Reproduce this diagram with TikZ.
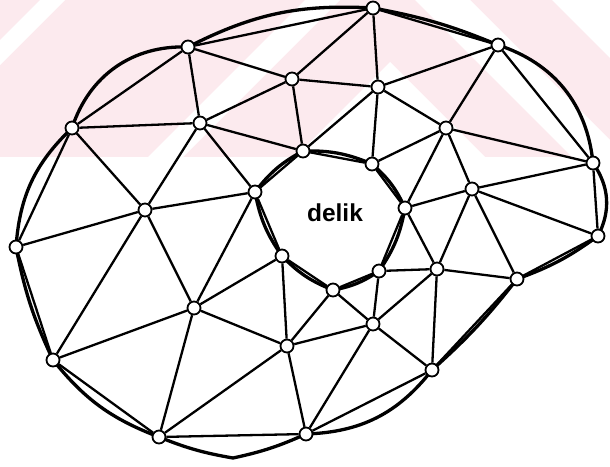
\documentclass[tikz,border=0pt]{standalone}
\usepackage{fontspec}
\setmainfont{Liberation Sans}
\definecolor{pinkbg}{RGB}{252,234,238}
\pgfdeclarelayer{bg}
\pgfsetlayers{bg,main}
\begin{document}
\begin{tikzpicture}[x=1pt,y=-1pt,
  vtx/.style={circle,draw,fill=white,inner sep=0pt,minimum size=13pt,line width=1.8pt},
  edge/.style={line width=2.3pt},
  bnd/.style={line width=3.3pt,line cap=round,line join=round},
  lbl/.style={font=\bfseries\fontsize{24.5}{28}\selectfont,inner sep=0pt}]
\useasboundingbox (0,0) rectangle (610,466);
% vertices
\foreach \n/\x/\y in {1/373/8,2/498/45,3/188/47,4/292/79,5/378/87,6/72/128,7/200/123,
  8/446/128,9/303/151,10/372/164,11/593/163,12/255/192,13/145/210,14/472/189,15/405/208,
  16/598/236,17/16/247,18/282/256,19/379/271,20/437/269,21/517/279,22/333/290,23/194/308,
  24/373/324,25/287/346,26/53/360,27/432/370,28/159/437,29/306/434}
  \node[vtx] (n\n) at (\x,\y) {};
\coordinate (bot) at (233,458);
\node[lbl] (hole) at (335,213) {delik};
\begin{pgfonlayer}{bg}
  % faint background stripes
  \fill[pinkbg] (0,0) rectangle (610,157);
  \fill[white] (40,0) -- (65,0) -- (0,65) -- (0,40) -- cycle;
  \fill[white] (305,0) -- (340,0) -- (183,157) -- (148,157) -- cycle;
  \fill[white] (415,0) -- (470,0) -- (610,140) -- (610,157) -- (572,157) -- cycle;
  \fill[white] (390,62) -- (485,157) -- (295,157) -- cycle;
  \fill[white] (552,0) -- (610,0) -- (610,58) -- cycle;
  % straight edges
  \foreach \a/\b in {1/2,2/11,11/16,16/21,21/27,27/29,29/28,28/26,26/17,17/6,6/3,3/1,
    9/10,10/15,15/19,19/22,22/18,18/12,12/9,
    3/7,3/4,4/1,4/5,4/9,4/7,7/6,7/9,7/13,7/12,6/13,13/12,13/17,13/23,13/26,
    1/5,5/2,5/8,5/10,5/9,2/8,8/11,8/10,8/14,8/15,14/15,14/11,14/16,14/20,14/21,
    15/20,20/19,20/21,20/24,20/27,24/19,24/22,24/27,24/29,24/25,22/25,
    25/18,25/23,25/28,25/29,23/18,23/12,23/26,23/28}
    \draw[edge] (n\a) -- (n\b);
  % outer curved boundary
  \draw[bnd] (n1.center) to[bend left=6] (n2.center)
    to[bend left=33] (n11.center)
    to[bend left=31] (n16.center)
    to[bend left=8] (n21.center)
    to[bend left=5] (n27.center)
    to[bend left=25] (n29.center)
    to[bend left=6] (bot)
    to[bend left=6] (n28.center)
    to[bend left=15] (n26.center)
    to[bend left=7] (n17.center)
    to[bend left=21] (n6.center)
    to[bend left=37] (n3.center)
    to[bend left=15] (n1.center);
  % curved hole boundary
  \draw[bnd] (n9.center) to[bend left=12] (n10.center)
    to[bend left=12] (n15.center)
    to[bend left=12] (n19.center)
    to[bend left=12] (n22.center)
    to[bend left=12] (n18.center)
    to[bend left=12] (n12.center)
    to[bend left=12] (n9.center);
\end{pgfonlayer}
\end{tikzpicture}
\end{document}
